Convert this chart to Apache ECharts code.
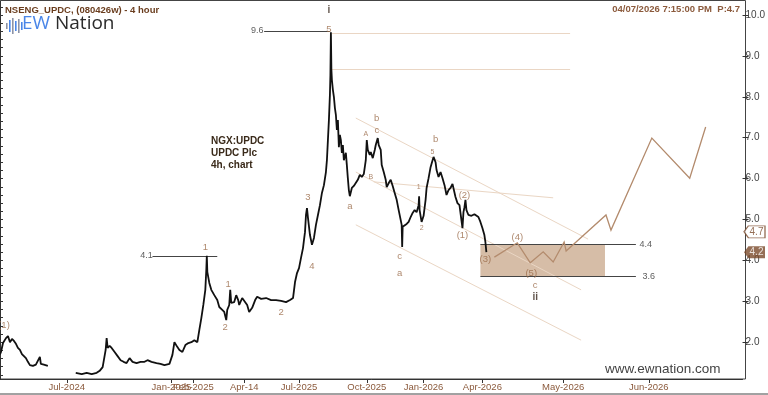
<!DOCTYPE html>
<html><head><meta charset="utf-8">
<script src="https://cdn.jsdelivr.net/npm/echarts@6/dist/echarts.min.js"></script>
<style>html,body{margin:0;padding:0;background:#fff}#c{width:768px;height:395px}</style>
</head><body><div id="c"></div>
<script>
// ---- data (x = bar index, y = price) ----
const priceA = [[0,1.70],[1,1.76],[3,1.98],[6,2.10],[8,2.15],[10,2.00],[12,2.08],[14,2.03],[16,1.96],[18,1.86],[20,1.81],[22,1.71],[24,1.74],[26,1.61],[28,1.52],[30,1.44],[33,1.42],[36,1.45],[38,1.49],[40,1.64],[41,1.47],[44,1.45],[48,1.42]];
const priceB = [[76,1.25],[82,1.22],[87,1.25],[92,1.22],[97,1.25],[100,1.30],[103,1.39],[106,1.81],[107,2.10],[108,1.86],[110,1.91],[112,1.86],[115,1.76],[118,1.66],[121,1.56],[124,1.52],[127,1.49],[130,1.61],[133,1.52],[137,1.49],[141,1.52],[145,1.52],[148,1.56],[152,1.52],[157,1.49],[161,1.47],[165,1.44],[170,1.47],[173,1.69],[175,2.00],[178,1.88],[180,1.81],[183,1.76],[186,1.93],[189,1.98],[192,2.00],[195,2.05],[198,2.00],[200,2.30],[202,2.59],[204,2.91],[206,3.28],[207,3.77],[207.5,4.11],[208,3.72],[210,3.45],[212,3.28],[215,3.15],[218,3.03],[220,2.86],[223,2.79],[225,2.74],[227,2.54],[228,2.79],[230,2.91],[231,3.28],[232,2.96],[235,2.98],[237,3.15],[239,3.03],[240,2.91],[243,3.08],[245,3.11],[248,2.91],[250,2.74],[253,2.84],[256,3.03],[258,3.11],[262,3.06],[267,3.08],[272,3.03],[277,3.03],[282,3.01],[287,2.98],[291,3.03],[294,3.08],[296,3.47],[298,3.69],[300,3.81],[302,4.06],[304,4.30],[305,4.50],[306,4.69],[307,5.11],[308,5.28],[309,5.04],[311,4.62],[313,4.38],[315,4.55],[317,4.87],[319,5.11],[321,5.35],[323,5.65],[325,5.84],[327,6.16],[328,6.45],[329,6.94],[330,7.43],[331,8.04],[331.5,8.53],[332,9.58],[332.5,8.66],[333,8.41],[334,8.17],[335,8.00],[336,7.73],[337,7.56],[338,7.19],[339,7.43],[340,6.77],[341,7.07],[342,6.94],[343,6.63],[344,6.82],[345,6.45],[347,6.63],[348,6.33],[349,6.01],[350,5.72],[351,5.57],[353,5.77],[355,5.82],[357,5.79],[359,5.97],[361,6.09],[363,6.04],[365,6.11],[367,6.45],[368,6.94],[369,6.70],[371,6.58],[372,6.65],[374,6.50],[376,6.70],[377,6.82],[379,6.99],[380,6.82],[382,6.70],[383,6.33],[385,6.16],[387,5.97],[388,5.79],[390,5.89],[392,5.97],[394,5.82],[396,5.65],[398,5.48],[400,5.23],[402,4.99],[403,4.87],[403.5,4.33],[404,4.82],[406,4.84],[408,4.89],[410,4.94],[412,5.06],[414,5.16],[416,5.23],[418,5.18],[420,5.35],[420.5,5.57],[421,5.23],[423,4.94],[425,5.09],[427,5.48],[428,5.77],[430,6.01],[432,6.28],[434,6.45],[435,6.53],[437,6.40],[438,6.21],[440,6.04],[442,6.16],[444,6.01],[446,5.84],[448,5.60],[450,5.72],[452,5.77],[454,5.87],[456,5.84],[457,5.55],[459,5.40],[461,5.35],[463,5.31],[464,4.79],[465,5.18],[466,5.30],[467,5.48],[468,5.23],[470,5.11],[473,5.09],[476,5.13],[478,5.16],[480,5.06],[482,4.94],[484,4.79],[486,4.62],[487,4.45],[488,4.20]];
const projection = [[496,4.08],[519,4.43],[532,3.94],[545,4.21],[555,3.96],[566,4.45],[568,4.23],[608,5.11],[613,4.74],[654,6.99],[692,6.01],[708,7.26]];
const targetBox = {x0:482, x1:607, top:4.4, bottom:3.6};
const levelLines = [ // [x0, x1, price]
  [153,218,4.1],[265,331,9.6],[482,638,4.4],[482,638,3.6]];
const channelLines = [ // [x0, p0, x1, p1]
  [357,7.48,590,4.52],[357,6.16,583,3.28],[357,4.87,583,2.05],[375,5.92,555,5.53],[333,9.56,572,9.56],[333,8.68,572,8.68]];
const levelTexts = [[147,4.12,'4.1'],[258,9.61,'9.6'],[648,4.40,'4.4'],[651,3.60,'3.6']];
const waveLabels = [[4,2.40,'(1)'],[206,4.33,'1'],[229,3.42,'1'],[226,2.37,'2'],[282,2.74,'2'],[309,5.53,'3'],[313,3.86,'4'],[330,9.66,'5'],[351,5.31,'a'],[378,7.48,'b'],[378,7.19,'c'],[401,4.11,'c'],[401,3.69,'a'],[437,6.97,'b'],[466,5.60,'(2)'],[464,4.60,'(1)'],[487,4.03,'(3)'],[519,4.57,'(4)'],[533,3.69,'(5)'],[537,3.40,'c']];
const subLabels = [[367,7.09,'A'],[372,6.04,'B'],[420,5.79,'1'],[423,4.79,'2'],[434,6.65,'5']];
const degreeLabels = [[330,10.12,'i'],[537,3.11,'ii']];
const priceTags = [[757,4.7,'4.7'],[757,4.2,'4.2']];
const xTickPos = [67,172,194,245,300,368,425,484,565,651];
const xTickLabels = ['Jul-2024','Jan-2025','Feb-2025','Apr-14','Jul-2025','Oct-2025','Jan-2026','Apr-2026','May-2026','Jun-2026'];
const yLabelValues = [2,3,4,5,6,7,8,9,10];
const yMinorValues = [];
for (let i = 6; i <= 51; i++) yMinorValues.push(+(i*0.2).toFixed(1));

const FONT = 'Liberation Sans, Arial, sans-serif';
const BROWN = '#9a6a48';

function textSeries(arr, style, z) {
  return {
    type:'scatter', symbolSize:0, silent:true, z:z||5, yAxisIndex:0,
    data: arr.map(d => ({value:[d[0], d[1]], name:d[2]})),
    label: Object.assign({show:true, position:'inside', formatter:p=>p.name, fontFamily:FONT}, style)
  };
}

const chart = echarts.init(document.getElementById('c'));
const option = {
  animation:false,
  backgroundColor:'#fff',
  grid:{left:0, right:23, top:1, bottom:16, containLabel:false},
  xAxis:{type:'value', min:0, max:745, position:'bottom',
    axisLine:{lineStyle:{color:'#333', width:1}},
    axisTick:{show:true, length:4, customValues:xTickPos, lineStyle:{color:'#333'}},
    axisLabel:{customValues:xTickPos, margin:3, fontSize:9.5, color:'#8b5a3c', fontFamily:FONT,
      formatter:v=>{const i=xTickPos.indexOf(v); return i>=0?xTickLabels[i]:'';}},
    splitLine:{show:false}},
  yAxis:[
    {type:'value', min:1.1, max:10.342, position:'right',
      axisLine:{show:true, lineStyle:{color:'#333'}},
      axisTick:{show:true, length:3, customValues:yMinorValues, lineStyle:{color:'#333'}},
      axisLabel:{show:false}, splitLine:{show:false}},
    {type:'value', min:1.1, max:10.342, position:'right',
      axisLine:{show:false},
      axisTick:{show:true, length:6, customValues:yLabelValues, lineStyle:{color:'#333'}},
      axisLabel:{customValues:yLabelValues, margin:3, fontSize:10, color:'#444', fontFamily:FONT,
        formatter:v=>v.toFixed(1)},
      splitLine:{show:false}}
  ],
  series:[
    {type:'lines', coordinateSystem:'cartesian2d', yAxisIndex:0, z:1, silent:true,
      lineStyle:{color:'#ead6c4', width:1, opacity:1},
      data: channelLines.map(l=>({coords:[[l[0],l[1]],[l[2],l[3]]]}))},
    {type:'line', name:'box', yAxisIndex:0, data:[], silent:true, z:2,
      markArea:{silent:true, itemStyle:{color:'rgba(180,135,95,0.55)'},
        data:[[{coord:[targetBox.x0,targetBox.top]},{coord:[targetBox.x1,targetBox.bottom]}]]}},
    {type:'lines', coordinateSystem:'cartesian2d', yAxisIndex:0, z:3, silent:true,
      lineStyle:{color:'#444', width:1, opacity:1},
      data: levelLines.map(l=>({coords:[[l[0],l[2]],[l[1],l[2]]]}))},
    {type:'line', yAxisIndex:0, data:priceA, showSymbol:false, z:4,
      lineStyle:{color:'#111', width:1.8}},
    {type:'line', yAxisIndex:0, data:priceB, showSymbol:false, z:4,
      lineStyle:{color:'#111', width:1.8}},
    {type:'lines', coordinateSystem:'cartesian2d', yAxisIndex:0, polyline:true, z:4, silent:true,
      symbol:['none','arrow'], symbolSize:9,
      lineStyle:{color:'#b38b6d', width:1.3, opacity:1},
      data:[{coords:projection}]},
    textSeries(levelTexts, {fontSize:9, color:'#333'}),
    textSeries(waveLabels, {fontSize:9.5, color:BROWN}),
    textSeries(subLabels, {fontSize:7, color:BROWN}),
    textSeries(degreeLabels, {fontSize:10, fontWeight:'bold', color:'#3b2a1f'}),
    {type:'scatter', yAxisIndex:0, clip:false, silent:true, z:6,
      symbol:'path://M0,6 L5,0 L24,0 L24,12 L5,12 Z', symbolSize:[21,12],
      data: priceTags.map((d,i)=>({value:[d[0],d[1]], name:d[2],
        itemStyle: i===0 ? {color:'#fff', borderColor:'#7a4a2a', borderWidth:1} : {color:'#7a4a2a'},
        label:{color: i===0 ? '#7a4a2a' : '#fff'}})),
      label:{show:true, position:'inside', formatter:p=>p.name, fontSize:10, fontFamily:FONT, offset:[2,0]}}
  ],
  graphic:[
    {type:'rect', shape:{x:0.5, y:0.5, width:745, height:378.5}, style:{fill:'none', stroke:'#444', lineWidth:1}, silent:true, z:0},
    {type:'line', shape:{x1:0, y1:394, x2:768, y2:394}, style:{stroke:'#444', lineWidth:1}, silent:true},
    {type:'text', left:5, top:5, style:{text:'NSENG_UPDC, (080426w) - 4 hour', font:'bold 9.5px '+FONT, fill:'#6a3d1e'}},
    {type:'text', right:28, top:4, style:{text:'04/07/2026 7:15:00 PM  P:4.7', font:'bold 9.5px '+FONT, fill:'#8b5a3c', textAlign:'right'}},
    {type:'group', left:6, top:18, children:[
      {type:'rect', shape:{x:0, y:5, width:1.6, height:6}, style:{fill:'#8c93a6'}},
      {type:'rect', shape:{x:3, y:2, width:1.6, height:12}, style:{fill:'#4a86e8'}},
      {type:'rect', shape:{x:6, y:0, width:1.6, height:16}, style:{fill:'#8c93a6'}},
      {type:'rect', shape:{x:9, y:3, width:1.6, height:10}, style:{fill:'#4a86e8'}},
      {type:'rect', shape:{x:12, y:1, width:1.6, height:14}, style:{fill:'#8c93a6'}},
      {type:'rect', shape:{x:15, y:4, width:1.6, height:8}, style:{fill:'#4a86e8'}}
    ]},
    {type:'text', left:22, top:14, style:{text:'EW', font:'19px "Open Sans", sans-serif', fill:'#4a86e8'}},
    {type:'text', left:55, top:14, style:{text:'Nation', font:'19px "Open Sans", sans-serif', fill:'#2b2b2b'}},
    {type:'text', left:211, top:135, style:{text:'NGX:UPDC\nUPDC Plc\n4h, chart', font:'bold 10px '+FONT, fill:'#3a2a1a', lineHeight:12}},
    {type:'text', left:605, top:362, style:{text:'www.ewnation.com', font:'13.5px '+FONT, fill:'#444'}}
  ]
};
chart.setOption(option);
</script></body></html>
